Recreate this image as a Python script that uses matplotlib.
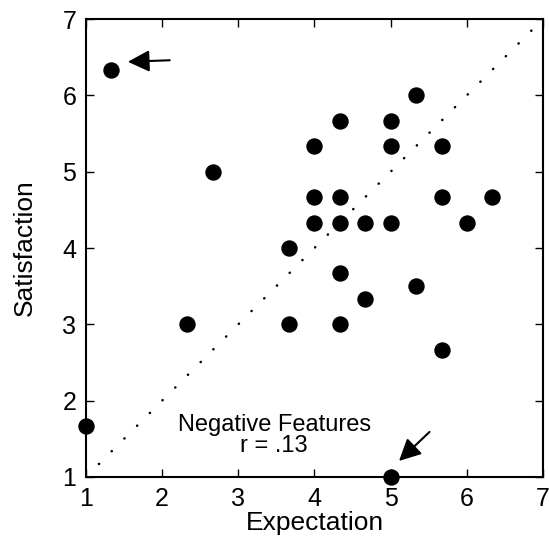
import matplotlib
matplotlib.use("Agg")
import matplotlib.pyplot as plt

# datos
expectation = [1.33, 2.67, 2.33, 1.0, 3.67, 3.67,
               4.0, 4.0, 4.0,
               4.33, 4.33, 4.33, 4.33, 4.33,
               4.67, 4.67,
               5.0, 5.0, 5.0, 5.0,
               5.33, 5.33,
               5.67, 5.67, 5.67,
               6.0, 6.33]
satisfaction = [6.33, 5.0, 3.0, 1.67, 4.0, 3.0,
                5.33, 4.67, 4.33,
                5.67, 4.67, 4.33, 3.67, 3.0,
                4.33, 3.33,
                5.67, 5.33, 4.33, 1.0,
                6.0, 3.5,
                5.33, 4.67, 2.67,
                4.33, 4.67]

linea_ref = [1.17, 6.9]
ticks = [1, 2, 3, 4, 5, 6, 7]

# flechas: (cola, punta)
flechas = [((2.10, 6.46), (1.55, 6.44)),
           ((5.51, 1.59), (5.11, 1.21))]

plt.rcParams['font.family'] = ['Liberation Sans', 'DejaVu Sans']

fig = plt.figure(figsize=(5.49, 5.44), dpi=100)
ax = fig.add_axes([0.1566, 0.1232, 0.8324, 0.8418])

ax.plot(linea_ref, linea_ref, color='black', lw=1.8,
        linestyle=(0, (0.1, 7.1)), dash_capstyle='round')

ax.plot(expectation, satisfaction, 'o', color='black', markersize=10.8,
        clip_on=False, zorder=5)

for cola, punta in flechas:
    ax.annotate('', xy=punta, xytext=cola,
                arrowprops=dict(arrowstyle='-|>,head_length=0.6,head_width=0.3',
                                mutation_scale=22, color='black', lw=1.5,
                                shrinkA=0, shrinkB=0))

ax.text(3.47, 1.68, 'Negative Features', ha='center', va='center', fontsize=17)
ax.text(3.47, 1.40, 'r = .13', ha='center', va='center', fontsize=17)

ax.set_xlim(1, 7)
ax.set_ylim(1, 7)
ax.set_xticks(ticks)
ax.set_yticks(ticks)
ax.tick_params(direction='in', length=6, width=1, top=True, right=True,
               labelsize=18, pad=7)
for s in ax.spines.values():
    s.set_linewidth(1.5)

ax.set_xlabel('Expectation', fontsize=19, labelpad=0)
ax.set_ylabel('Satisfaction', fontsize=19, labelpad=18)

fig.savefig('out.png', dpi=100)
